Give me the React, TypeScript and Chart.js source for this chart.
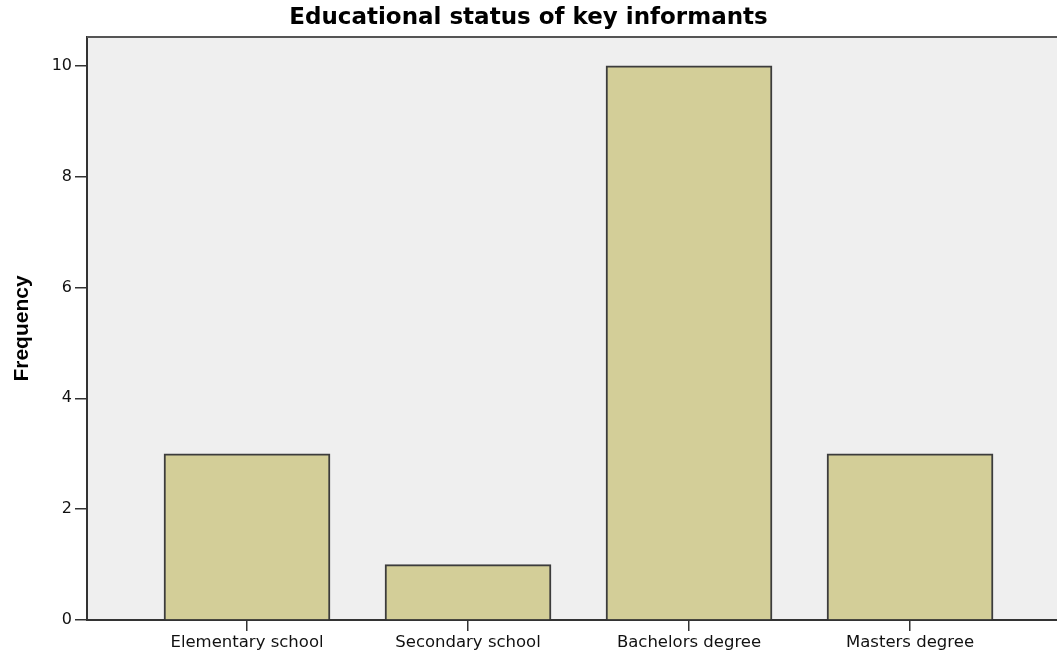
import React, { useEffect, useRef } from "react";
import { Chart, registerables } from "chart.js";

Chart.register(...registerables);

const categories = ["Elementary school", "Secondary school", "Bachelors degree", "Masters degree"];
const frequencies = [3, 1, 10, 3];
const yTicks = [0, 2, 4, 6, 8, 10];
const chartTitle = "Educational status of key informants";
const yTitle = "Frequency";

const areaPlugin = {
  id: "areaPlugin",
  beforeDraw(chart: any) {
    const { ctx, chartArea } = chart;
    ctx.save();
    ctx.fillStyle = "#efefef";
    ctx.fillRect(chartArea.left, chartArea.top, chartArea.right - chartArea.left, chartArea.bottom - chartArea.top);
    ctx.restore();
  },
  afterDraw(chart: any) {
    const { ctx, chartArea } = chart;
    ctx.save();
    ctx.strokeStyle = "#555";
    ctx.lineWidth = 2;
    ctx.beginPath();
    ctx.moveTo(chartArea.left, chartArea.top);
    ctx.lineTo(chartArea.right, chartArea.top);
    ctx.stroke();
    ctx.restore();
  },
};

export default function App() {
  const ref = useRef<HTMLCanvasElement | null>(null);
  useEffect(() => {
    if (!ref.current) return;
    const chart = new Chart(ref.current, {
      type: "bar",
      data: {
        datasets: [
          {
            data: frequencies.map((v, i) => ({ x: i, y: v })),
            backgroundColor: "rgb(211,206,152)",
            borderColor: "#3c3c3c",
            borderWidth: 2,
            barThickness: 166,
          },
        ],
      },
      options: {
        animation: false,
        responsive: false,
        devicePixelRatio: 1,
        layout: { padding: { left: 0, right: 0, top: 0, bottom: 0 } },
        plugins: {
          legend: { display: false },
          tooltip: { enabled: false },
          title: {
            display: true,
            text: chartTitle,
            color: "#000",
            font: { family: "DejaVu Sans", size: 23, weight: "bold", lineHeight: 1.2 },
            padding: { top: 4, bottom: 5.4 },
          },
        },
        scales: {
          x: {
            type: "linear",
            offset: false,
            min: -0.724,
            max: 3.665,
            afterBuildTicks: (scale: any) => {
              scale.ticks = categories.map((_, i) => ({ value: i }));
            },
            afterFit: (scale: any) => {
              scale.height = 35;
            },
            ticks: {
              autoSkip: false,
              maxRotation: 0,
              padding: 2,
              color: "#111",
              font: { family: "DejaVu Sans", size: 16.5 },
              callback: (v: any) => categories[v as number] ?? "",
            },
            grid: {
              display: true,
              offset: false,
              drawOnChartArea: false,
              drawTicks: true,
              tickLength: 11,
              color: "#333",
              lineWidth: 1.5,
            },
            border: { display: true, color: "#333", width: 2 },
          },
          y: {
            min: 0,
            max: 10.52,
            afterBuildTicks: (scale: any) => {
              scale.ticks = yTicks.map((v) => ({ value: v }));
            },
            afterFit: (scale: any) => {
              scale.width = 87;
            },
            ticks: {
              padding: 3,
              color: "#111",
              font: { family: "DejaVu Sans", size: 16 },
            },
            grid: {
              display: true,
              drawOnChartArea: false,
              drawTicks: true,
              tickLength: 12,
              color: "#333",
              lineWidth: 1.5,
            },
            border: { display: true, color: "#333", width: 2 },
            title: {
              display: true,
              text: yTitle,
              color: "#000",
              font: { family: "Liberation Sans", size: 21, weight: "bold", lineHeight: 1.2 },
              padding: { top: 10, bottom: 0 },
            },
          },
        },
      },
      plugins: [areaPlugin],
    });
    return () => chart.destroy();
  }, []);
  return (
    <div style={{ position: "absolute", left: 0, top: 0, width: 1057, height: 655, overflow: "hidden" }}>
      <canvas ref={ref} width={1057} height={655} style={{ width: 1057, height: 655, display: "block" }} />
    </div>
  );
}
